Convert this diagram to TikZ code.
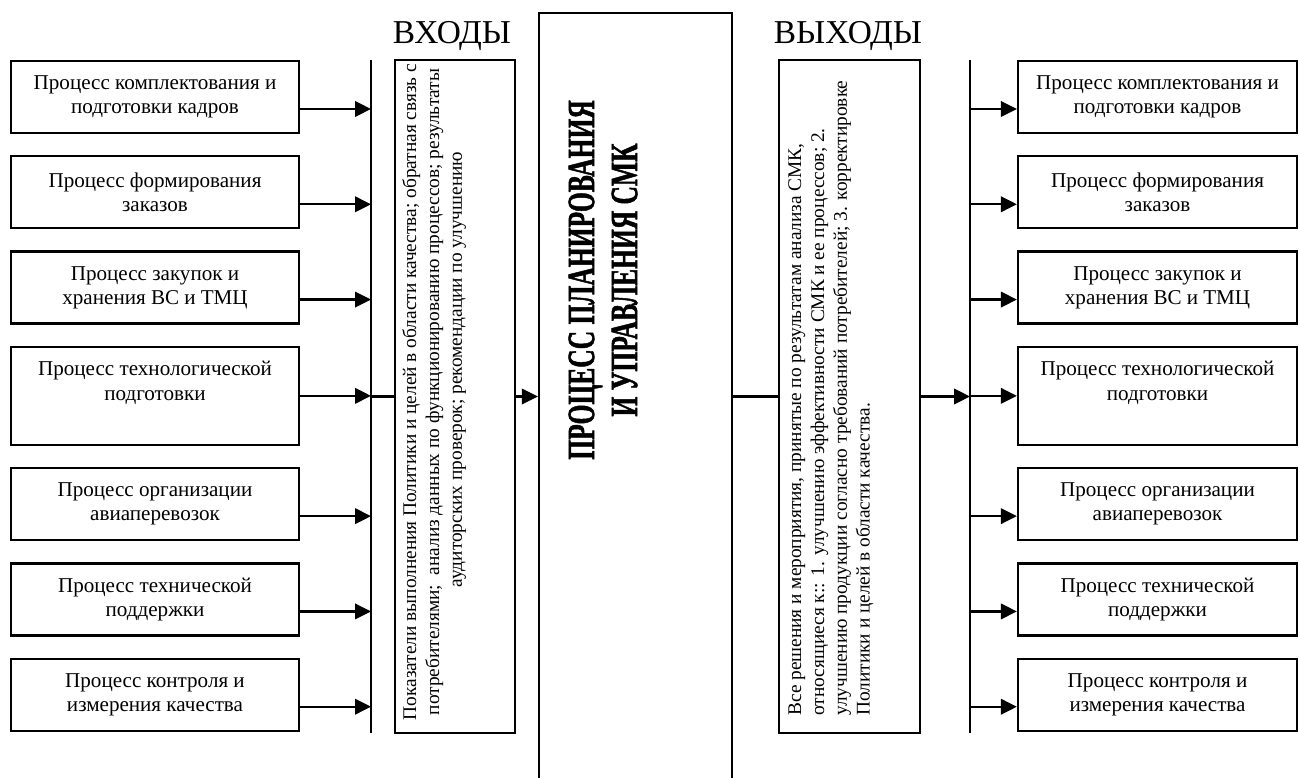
\documentclass[tikz,border=0pt]{standalone}
\usepackage{fontspec}
\setmainfont{Liberation Serif}
\newfontfamily\narrowserif[FakeStretch=0.66, BoldFeatures={FakeBold=1.2}]{Liberation Serif}
\usetikzlibrary{arrows.meta,positioning}
\tikzset{
  procbox/.style={rectangle, draw=black, line width=1.3pt, align=center, inner sep=2pt,
                  minimum height=14.4mm, font=\fontsize{12}{13.8}\selectfont},
  lproc/.style={procbox, minimum width=57.6mm},
  rproc/.style={procbox, minimum width=55.8mm},
  sidebox/.style={rectangle, draw=black, line width=1.3pt, inner sep=0pt},
  sidetext/.style={rotate=90, inner sep=0pt, font=\fontsize{11}{13}\selectfont},
  headlbl/.style={font=\fontsize{19}{21}\selectfont},
  titlelbl/.style={rotate=90, align=center, font=\narrowserif\bfseries\fontsize{22}{24.5}\selectfont},
  flow/.style={-{Triangle[length=3.2mm, width=3.1mm]}, line width=1.3pt},
  link/.style={line width=1.3pt},
}
\begin{document}
\begin{tikzpicture}[x=0.2mm, y=-0.2mm]
\useasboundingbox (0,0) rectangle (1299,778);

% inputs
\node[lproc] (l1) at (155,97) {Процесс комплектования и\\подготовки кадров};
\node[lproc, below=4.2mm of l1] (l2) {Процесс формирования\\заказов};
\node[lproc, below=4.2mm of l2] (l3) {Процесс закупок и\\хранения ВС и ТМЦ};
\node[lproc, minimum height=19.6mm, below=4.2mm of l3] (l4) {};
\node[lproc, draw=none, anchor=north] (l4t) at (l4.north) {Процесс технологической\\подготовки};
\node[lproc, below=4.2mm of l4] (l5) {Процесс организации\\авиаперевозок};
\node[lproc, below=4.2mm of l5] (l6) {Процесс технической\\поддержки};
\node[lproc, below=4.2mm of l6] (l7) {Процесс контроля и\\измерения качества};

% outputs
\node[rproc] (r1) at (1157.5,97) {Процесс комплектования и\\подготовки кадров};
\node[rproc, below=4.2mm of r1] (r2) {Процесс формирования\\заказов};
\node[rproc, below=4.2mm of r2] (r3) {Процесс закупок и\\хранения ВС и ТМЦ};
\node[rproc, minimum height=19.6mm, below=4.2mm of r3] (r4) {};
\node[rproc, draw=none, anchor=north] (r4t) at (r4.north) {Процесс технологической\\подготовки};
\node[rproc, below=4.2mm of r4] (r5) {Процесс организации\\авиаперевозок};
\node[rproc, below=4.2mm of r5] (r6) {Процесс технической\\поддержки};
\node[rproc, below=4.2mm of r6] (r7) {Процесс контроля и\\измерения качества};

% collector bars
\coordinate (lbt) at (371,60);
\coordinate (lbb) at (371,733);
\coordinate (rbt) at (970,60);
\coordinate (rbb) at (970,733);

% middle column
\node[sidebox, minimum width=24mm, minimum height=134.6mm] (inbox) at (455,396.5) {};
\node[sidebox, minimum width=28.2mm, minimum height=134.6mm] (outbox) at (849.5,396.5) {};
\node[sidebox, minimum width=38.6mm, minimum height=156mm] (core) at (635.5,403) {};

\node[headlbl] (inlbl) at (452,36) {ВХОДЫ};
\node[headlbl] (outlbl) at (848,36) {ВЫХОДЫ};
\node[titlelbl] (title) at (603,280) {ПРОЦЕСС ПЛАНИРОВАНИЯ\\И УПРАВЛЕНИЯ СМК};

\node[sidetext, align=center, anchor=north] (intext) at (402,392)
 {Показатели выполнения Политики и целей в области качества; обратная связь с\\
  потребителями;~ анализ данных по функционированию процессов; результаты\\
  \hspace*{9mm}аудиторских проверок; рекомендации по улучшению};
\node[sidetext, align=left, anchor=north west] (outtext) at (788,716)
 {Все решения и мероприятия, принятые по результатам анализа СМК,\\
  относящиеся к:: 1. улучшению эффективности СМК и ее процессов; 2.\\
  улучшению продукции согласно требований потребителей; 3. корректировке\\
  Политики и целей в области качества.};

% connectors
\draw[link] (lbt) -- (lbb);
\draw[link] (rbt) -- (rbb);
\draw[flow] ([yshift=-2.4mm]l1.east) -- ([yshift=-2.4mm]l1.east -| lbt);
\draw[flow] ([yshift=-2.4mm]l2.east) -- ([yshift=-2.4mm]l2.east -| lbt);
\draw[flow] ([yshift=-2.4mm]l3.east) -- ([yshift=-2.4mm]l3.east -| lbt);
\draw[flow] (l4.east) -- (l4.east -| lbt);
\draw[flow] ([yshift=-2.4mm]l5.east) -- ([yshift=-2.4mm]l5.east -| lbt);
\draw[flow] ([yshift=-2.4mm]l6.east) -- ([yshift=-2.4mm]l6.east -| lbt);
\draw[flow] ([yshift=-2.4mm]l7.east) -- ([yshift=-2.4mm]l7.east -| lbt);
\draw[link] (inbox.west -| lbt) -- (inbox.west);
\draw[flow] (inbox.east) -- (inbox.east -| core.west);
\draw[link] (outbox.west -| core.east) -- (outbox.west);
\draw[flow] (outbox.east) -- (outbox.east -| rbt);
\draw[flow] ([yshift=-2.4mm]r1.west -| rbt) -- ([yshift=-2.4mm]r1.west);
\draw[flow] ([yshift=-2.4mm]r2.west -| rbt) -- ([yshift=-2.4mm]r2.west);
\draw[flow] ([yshift=-2.4mm]r3.west -| rbt) -- ([yshift=-2.4mm]r3.west);
\draw[flow] (r4.west -| rbt) -- (r4.west);
\draw[flow] ([yshift=-2.4mm]r5.west -| rbt) -- ([yshift=-2.4mm]r5.west);
\draw[flow] ([yshift=-2.4mm]r6.west -| rbt) -- ([yshift=-2.4mm]r6.west);
\draw[flow] ([yshift=-2.4mm]r7.west -| rbt) -- ([yshift=-2.4mm]r7.west);
\end{tikzpicture}
\end{document}
